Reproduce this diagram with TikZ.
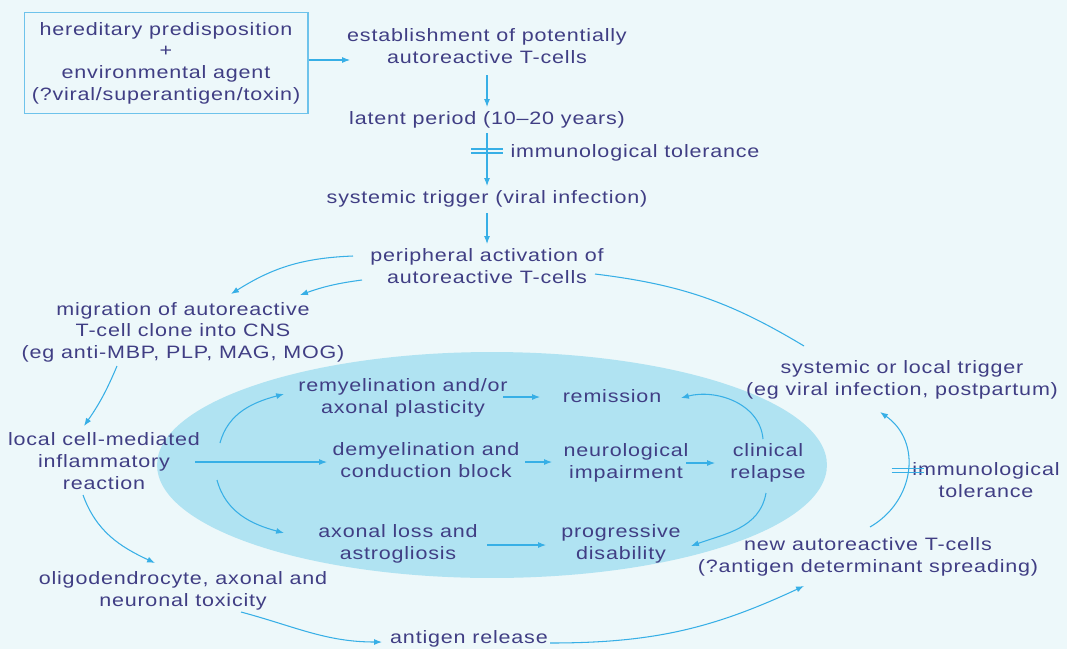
\documentclass[tikz,border=0pt]{standalone}
\usepackage{fontspec}
\setmainfont[FakeStretch=1.2,LetterSpace=4.5]{Liberation Sans}
\usepackage{xcolor}
\usepackage{tikz}
\usetikzlibrary{arrows.meta,calc}
\definecolor{figtext}{RGB}{64,62,132}
\definecolor{figline}{RGB}{55,175,230}
\definecolor{figbox}{RGB}{110,195,235}
\definecolor{figback}{RGB}{237,248,250}
\definecolor{figoval}{RGB}{176,227,242}
\tikzset{
  lab/.style  ={font=\fontsize{10.2}{12.3}\selectfont, text=figtext, align=center, inner sep=2pt},
  hbox/.style ={lab, draw=figbox, line width=0.6pt, minimum width=5.68cm, minimum height=2.02cm},
  link/.style ={draw=figline, line width=0.6pt, -{Latex[length=4.5pt,width=3.4pt]}},
  plain/.style={draw=figline, line width=0.6pt},
  tolbar/.pic ={\draw[plain] (-16,-2) -- (16,-2) (-16,2) -- (16,2);},
}

\begin{document}
\begin{tikzpicture}[x=0.02cm,y=-0.02cm]
  \useasboundingbox (0,0) rectangle (1067,649);
  \fill[figback] (0,0) rectangle (1067,649);
  \fill[figoval] (492,465) ellipse [x radius=6.7cm, y radius=2.26cm];

  \node[hbox] (hered)   at (166,63)  {hereditary predisposition\\+\\environmental agent\\(?viral/superantigen/toxin)};
  \node[lab]  (estab)   at (487,46)  {establishment of potentially\\autoreactive T-cells};
  \node[lab]  (latent)  at (487,120) {latent period (10--20 years)};
  \node[lab]  (tolA)    at (635,153) {immunological tolerance};
  \node[lab]  (systrig) at (487,199) {systemic trigger (viral infection)};
  \node[lab]  (periph)  at (487,266) {peripheral activation of\\autoreactive T-cells};
  \node[lab]  (migr)    at (183,332) {migration of autoreactive\\T-cell clone into CNS\\(eg anti-MBP, PLP, MAG, MOG)};
  \node[lab]  (local)   at (104,461) {local cell-mediated\\inflammatory\\reaction};
  \node[lab]  (remy)    at (403,398) {remyelination and/or\\axonal plasticity};
  \node[lab]  (remis)   at (612,396) {remission};
  \node[lab]  (demy)    at (426,460) {demyelination and\\conduction block};
  \node[lab]  (neuro)   at (626,463) {neurological\\impairment};
  \node[lab]  (clin)    at (768,463) {clinical\\relapse};
  \node[lab]  (axloss)  at (398,544) {axonal loss and\\astrogliosis};
  \node[lab]  (progr)   at (621,544) {progressive\\disability};
  \node[lab]  (sysloc)  at (902,380) {systemic or local trigger\\(eg viral infection, postpartum)};
  \node[lab]  (tolB)    at (986,480) {immunological\\tolerance};
  \node[lab]  (newtc)   at (868,557) {new autoreactive T-cells\\(?antigen determinant spreading)};
  \node[lab]  (oligo)   at (183,591) {oligodendrocyte, axonal and\\neuronal toxicity};
  \node[lab]  (antig)   at (469,639) {antigen release};

  \draw[link] ($(hered.east)+(0,-3)$) -- ($(estab)+(-137,14)$);
  \draw[link] ($(estab)+(0,29)$) -- ($(latent)+(0,-13)$);
  \draw[link] ($(latent)+(0,13)$) -- coordinate[pos=0.34] (tbA) ($(systrig)+(0,-13)$);
  \pic at (tbA) {tolbar};
  \draw[link] ($(systrig)+(0,14)$) -- ($(periph)+(0,-22)$);
  \draw[link] ($(periph)+(-134,-10)$) to[bend right=15] ($(migr)+(48,-38)$);
  \draw[link] ($(periph)+(-125,14)$) to[bend right=6] ($(migr)+(117,-37)$);
  \draw[plain] ($(periph)+(108,8)$) to[bend left=12] ($(sysloc)+(-98,-34)$);
  \draw[link] ($(migr)+(-66,34)$) to[bend left=6] ($(local)+(-20,-35)$);
  \draw[link] ($(local)+(116,-18)$) to[out=75,in=195] ($(remy)+(-119,-4)$);
  \draw[link] ($(local)+(91,1)$) -- ($(demy)+(-99,2)$);
  \draw[link] ($(local)+(113,19)$) to[out=-75,in=165] ($(axloss)+(-114,-11)$);
  \draw[link] ($(local)+(-21,34)$) to[out=-70,in=155] ($(oligo)+(-28,-28)$);
  \draw[link] ($(remy)+(100,-1)$) -- ($(remis)+(-72,1)$);
  \draw[link] ($(demy)+(99,2)$) -- ($(neuro)+(-74,-1)$);
  \draw[link] ($(axloss)+(89,1)$) -- ($(progr)+(-75,1)$);
  \draw[link] ($(neuro)+(60,0)$) -- ($(clin)+(-53,0)$);
  \draw[link] ($(clin)+(-5,-24)$) to[out=95,in=15] ($(remis)+(69,2)$);
  \draw[link] ($(clin)+(-2,30)$) to[out=-100,in=20] ($(progr)+(70,2)$);
  \draw[link] ($(oligo)+(58,21)$) to[out=-15,in=180] ($(antig)+(-87,3)$);
  \draw[link] ($(antig)+(81,4)$) to[out=0,in=205] ($(newtc)+(-64,29)$);
  \draw[link] ($(newtc)+(2,-30)$) to[out=30,in=-35,looseness=1.15] coordinate[pos=0.5] (tbB) ($(sysloc)+(-22,32)$);
  \pic at (tbB) {tolbar};
\end{tikzpicture}
\end{document}
